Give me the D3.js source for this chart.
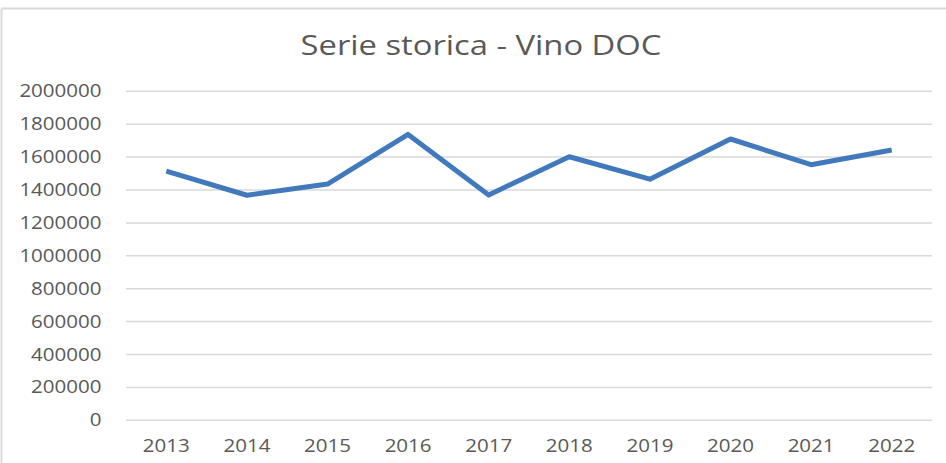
<!DOCTYPE html>
<html>
<head>
<meta charset="utf-8">
<script src="https://cdn.jsdelivr.net/npm/d3@7"></script>
<style>
  html, body { margin: 0; padding: 0; background: #fff; }
  svg { display: block; }
  text { font-family: "Open Sans", sans-serif; fill: #595959; }
</style>
</head>
<body>
<svg id="chart" width="946" height="463"></svg>
<script>
const title = "Serie storica - Vino DOC";
const years = ["2013","2014","2015","2016","2017","2018","2019","2020","2021","2022"];
const values = [1515000, 1368000, 1436000, 1738000, 1370000, 1602000, 1466000, 1710000, 1554000, 1643000];
const yTicks = [0, 200000, 400000, 600000, 800000, 1000000, 1200000, 1400000, 1600000, 1800000, 2000000];

const W = 946, H = 463;
const SX = 1.18; // horizontal stretch of text
const plot = { left: 126, right: 932, top: 91.3, bottom: 420.3 };

const svg = d3.select("#chart");

// outer frame (top and left edges visible)
svg.append("line").attr("x1", 1.5).attr("x2", W).attr("y1", 8.5).attr("y2", 8.5)
  .attr("stroke", "#d9d9d9").attr("stroke-width", 2);
svg.append("line").attr("x1", 1.5).attr("x2", 1.5).attr("y1", 8.5).attr("y2", H)
  .attr("stroke", "#d9d9d9").attr("stroke-width", 2);

const x = d3.scaleBand().domain(years).range([plot.left, plot.right]);
const y = d3.scaleLinear().domain([0, 2000000]).range([plot.bottom, plot.top]);
const cx = d => x(d) + x.bandwidth() / 2;

// gridlines
svg.append("g").selectAll("line").data(yTicks).join("line")
  .attr("x1", plot.left).attr("x2", plot.right)
  .attr("y1", d => y(d)).attr("y2", d => y(d))
  .attr("stroke", "#d9d9d9").attr("stroke-width", 1.5);

// y labels
svg.append("g").selectAll("text").data(yTicks).join("text")
  .attr("transform", d => `translate(101.5,${y(d) + 6}) scale(${SX},1)`)
  .attr("text-anchor", "end")
  .attr("font-size", 17.4)
  .text(d => String(d));

// x labels
svg.append("g").selectAll("text").data(years).join("text")
  .attr("transform", d => `translate(${cx(d)},452) scale(${SX},1)`)
  .attr("text-anchor", "middle")
  .attr("font-size", 17.4)
  .text(d => d);

// title
svg.append("text")
  .attr("transform", `translate(481,54.5) scale(1.2,1)`)
  .attr("text-anchor", "middle")
  .attr("font-size", 27.3)
  .text(title);

// line
const line = d3.line().x((d, i) => cx(years[i])).y(d => y(d));
svg.append("path").datum(values)
  .attr("d", line)
  .attr("fill", "none")
  .attr("stroke", "#4179bd")
  .attr("stroke-width", 5)
  .attr("stroke-linejoin", "round");
</script>
</body>
</html>
